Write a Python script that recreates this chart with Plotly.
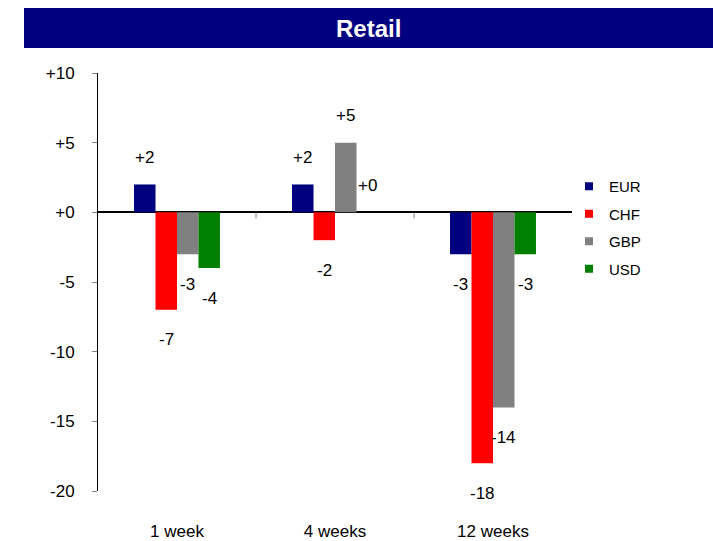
import plotly.graph_objects as go

categories = ["1 week", "4 weeks", "12 weeks"]
series_names = ["EUR", "CHF", "GBP", "USD"]
eur = [2, 2, -3]
chf = [-7, -2, -18]
gbp = [-3, 5, -14]
usd = [-4, 0, -3]
tick_values = [10, 5, 0, -5, -10, -15, -20]
tick_labels = ["+10", "+5", "+0", "-5", "-10", "-15", "-20"]
title_text = "Retail"

colors = ["#000080", "#FF0000", "#808080", "#008000"]
series_values = [eur, chf, gbp, usd]

W, H = 713, 541
L, R, T, B = 98, 572, 73, 491  # plot area in pixels
FONT = "Liberation Sans, Arial, sans-serif"

def px_x(p):
    return (p - L) / (R - L)

def px_y(p):
    return (B - p) / (B - T)

fig = go.Figure()
for name, vals, col in zip(series_names, series_values, colors):
    fig.add_trace(go.Bar(x=categories, y=vals, name=name, marker=dict(color=col, line=dict(width=0)),
                         showlegend=False, hoverinfo="x+y+name"))
# legend entries with small square markers
for name, col in zip(series_names, colors):
    fig.add_trace(go.Scatter(x=[None], y=[None], mode="markers", name=name, legendgroup=name,
                             marker=dict(symbol="square", size=8, color=col)))

bargap = 0.456
cat_w = (R - L) / len(categories)
bar_w = cat_w * (1 - bargap) / len(series_names)

annotations = []
for si, vals in enumerate(series_values):
    for ci, v in enumerate(vals):
        txt = ("+%d" % v) if v >= 0 else ("%d" % v)
        annotations.append(dict(x=categories[ci], y=v, xref="x", yref="y", text=txt, showarrow=False,
                                xshift=(si - (len(series_names) - 1) / 2) * bar_w,
                                yshift=27 if v >= 0 else -30, yanchor="middle",
                                font=dict(family=FONT, size=17, color="black")))
annotations.append(dict(x=px_x((24 + 713) / 2), y=px_y(28), xref="paper", yref="paper", text="<b>%s</b>" % title_text,
                        showarrow=False, xanchor="center", yanchor="middle",
                        font=dict(family=FONT, size=24, color="white")))

shapes = [dict(type="rect", xref="paper", yref="paper", x0=px_x(24), x1=px_x(713), y0=px_y(48), y1=px_y(8),
               fillcolor="#000080", line=dict(width=0), layer="below")]
# category-boundary tick marks on the zero line
for ci in range(len(categories) - 1):
    shapes.append(dict(type="line", xref="x", yref="y", x0=ci + 0.5, x1=ci + 0.5, y0=0, y1=-6,
                       ysizemode="pixel", yanchor=0, line=dict(color="#808080", width=1)))

fig.update_layout(
    width=W, height=H,
    margin=dict(l=L, r=W - R, t=T, b=H - B, pad=0, autoexpand=False),
    paper_bgcolor="white", plot_bgcolor="white",
    barmode="group", bargap=bargap, bargroupgap=0,
    font=dict(family=FONT, size=17, color="black"),
    showlegend=True,
    legend=dict(x=px_x(569), y=px_y(170), xanchor="left", yanchor="top", tracegroupgap=5,
                font=dict(family=FONT, size=15, color="black"), bgcolor="rgba(0,0,0,0)",
                itemwidth=30),
    xaxis=dict(showline=False, ticks="", showgrid=False, zeroline=False, automargin=False,
               tickfont=dict(family=FONT, size=17, color="black"), ticklabelstandoff=28),
    yaxis=dict(range=[-20, 10], tickvals=tick_values, ticktext=tick_labels, showline=True, linecolor="black",
               linewidth=1, ticks="outside", ticklen=5, tickcolor="#808080", showgrid=False, automargin=False,
               zeroline=True, zerolinecolor="black", zerolinewidth=1.5,
               tickfont=dict(family=FONT, size=17, color="black"), ticklabelstandoff=14),
    annotations=annotations,
    shapes=shapes,
)

fig.write_html("out.html", config={"displayModeBar": False},
               post_script="document.body.style.margin='0';document.body.style.overflow='hidden';")
